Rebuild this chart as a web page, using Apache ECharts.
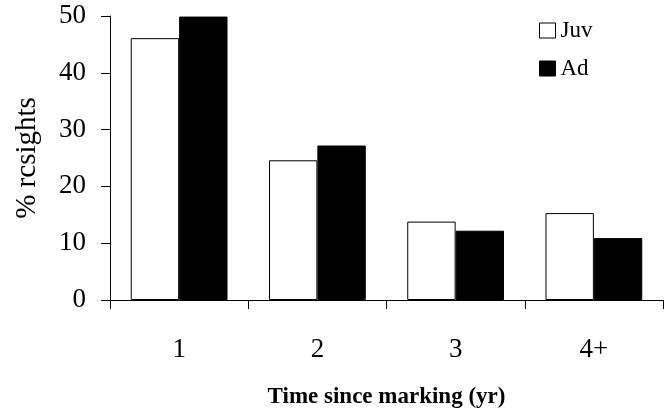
<!DOCTYPE html>
<html>
<head>
<meta charset="utf-8">
<script src="https://cdn.jsdelivr.net/npm/echarts@6/dist/echarts.min.js"></script>
<style>
  html, body { margin: 0; padding: 0; background: #fff; }
  #chart { width: 668px; height: 416px; }
</style>
</head>
<body>
<div id="chart"></div>
<script>
// data
var categories = ['1', '2', '3', '4+'];
var juvValues = [46.1, 24.6, 13.8, 15.3];
var adValues = [49.9, 27.2, 12.2, 10.9];

var serif = '"Liberation Serif", "DejaVu Serif", serif';

var chart = echarts.init(document.getElementById('chart'));

var option = {
  animation: false,
  backgroundColor: '#fff',
  textStyle: { fontFamily: serif, color: '#000' },
  grid: { left: 110, right: 5, top: 16, bottom: 116 },
  legend: {
    data: ['Juv', 'Ad'],
    orient: 'vertical',
    left: 534,
    top: 14,
    icon: 'rect',
    itemWidth: 16,
    itemHeight: 15,
    itemGap: 15,
    itemStyle: { borderColor: '#000', borderWidth: 1 },
    textStyle: { fontFamily: serif, fontSize: 23, color: '#000' }
  },
  xAxis: {
    type: 'category',
    data: categories,
    name: 'Time since marking (yr)',
    nameLocation: 'middle',
    nameGap: 86,
    nameTextStyle: { fontFamily: serif, fontSize: 23, fontWeight: 'bold', color: '#000' },
    axisLine: { lineStyle: { color: '#000', width: 1 } },
    axisTick: { show: true, length: 9, lineStyle: { color: '#000' } },
    axisLabel: { fontFamily: serif, fontSize: 27, color: '#000', margin: 36 }
  },
  yAxis: {
    type: 'value',
    min: 0,
    max: 50,
    interval: 10,
    name: '% rcsights',
    nameLocation: 'middle',
    nameGap: 68,
    nameTextStyle: { fontFamily: serif, fontSize: 29, color: '#000' },
    axisLine: { show: true, lineStyle: { color: '#000', width: 1 } },
    axisTick: { show: true, length: 9, lineStyle: { color: '#000' } },
    axisLabel: { fontFamily: serif, fontSize: 27, color: '#000', margin: 24 },
    splitLine: { show: false }
  },
  series: [
    {
      name: 'Juv',
      type: 'bar',
      data: juvValues,
      barGap: '0%',
      barCategoryGap: '30%',
      itemStyle: { color: '#fff', borderColor: '#000', borderWidth: 1 }
    },
    {
      name: 'Ad',
      type: 'bar',
      data: adValues,
      barGap: '0%',
      barCategoryGap: '30%',
      itemStyle: { color: '#000', borderColor: '#000', borderWidth: 1 }
    }
  ]
};

chart.setOption(option);
</script>
</body>
</html>
